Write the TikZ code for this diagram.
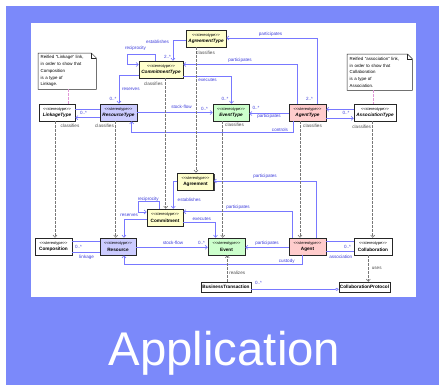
\documentclass[tikz,border=0pt]{standalone}
\usepackage{fontspec}
\setmainfont{Liberation Sans}[Ligatures=TeXOff]
\usetikzlibrary{arrows.meta,shadows,backgrounds}

\definecolor{bgblue}{RGB}{123,137,250}
\definecolor{lnblue}{RGB}{120,120,255}
\definecolor{lblblue}{RGB}{60,60,220}
\definecolor{clsgray}{RGB}{120,120,120}
\definecolor{notepink}{RGB}{225,150,215}
\definecolor{yel}{RGB}{255,255,204}
\definecolor{grn}{RGB}{204,255,204}
\definecolor{pnk}{RGB}{255,204,204}
\definecolor{lav}{RGB}{204,204,255}

\newcommand{\stype}{{\fontsize{4}{4}\selectfont <<stereotype>>}}
\newcommand{\tname}[1]{\textbf{\textit{#1}}}

\tikzset{
  box/.style={draw=black!85, line width=0.5bp, inner sep=0pt, minimum height=17bp,
    align=center, font=\fontsize{4.7}{6.5}\selectfont,
    drop shadow={shadow xshift=1bp, shadow yshift=-1bp, fill=black!75, opacity=1}},
  plainbox/.style={draw=black!85, fill=white, line width=0.5bp, inner sep=0pt, minimum height=10bp,
    font=\fontsize{4.7}{5}\selectfont\bfseries,
    drop shadow={shadow xshift=1bp, shadow yshift=-1bp, fill=blue!40!black, opacity=1}},
  notebox/.style={inner xsep=2.5bp, inner ysep=1.5bp, align=left, minimum height=36bp,
    font=\fontsize{4.4}{6.7}\selectfont},
  notebd/.style={draw=black!85, line width=0.5bp, fill=white},
  lbl/.style={inner sep=0pt, text=lblblue, font=\fontsize{4.6}{5}\selectfont},
  glbl/.style={lbl, text=black!70},
  assoc/.style={draw=lnblue, line width=0.6bp, -{Straight Barb[length=2.2bp,width=4bp]}},
  plain/.style={draw=lnblue, line width=0.6bp},
  aggr/.style={draw=lnblue, line width=0.6bp, -{Diamond[open,length=4bp,width=3bp]}},
  clsf/.style={draw=clsgray, line width=0.6bp, dash pattern=on 2.5bp off 1.5bp,
    -{Straight Barb[length=2.2bp,width=4bp]}},
  dep/.style={clsf},
  notelink/.style={draw=notepink, line width=0.6bp, dash pattern=on 2.5bp off 1.5bp},
}

\begin{document}
\begin{tikzpicture}[x=1bp,y=-1bp]
\useasboundingbox (0,0) rectangle (439,385);

% notes
\node[notebox, text width=53bp, anchor=north west] (n1) at (38,53) {Reified "Linkage" link,\\in order to show that\\Composition\\is a type of\\Linkage.};
\node[notebox, text width=60bp, anchor=north west] (n2) at (347,54) {Reified "association" link,\\in order to show that\\Collaboration\\is a type of\\Association.};

\begin{scope}[on background layer]
\fill[white] (0,0) rectangle (439,385);
\fill[bgblue] (6,6) rectangle (439,385);
\fill[white] (31,23) rectangle (416,297);
\draw[notebd] (n1.south west) -- (n1.south east) -- ([yshift=-5bp]n1.north east)
  -- ([xshift=-5bp]n1.north east) -- (n1.north west) -- cycle;
\draw[notebd] (n2.south west) -- (n2.south east) -- ([yshift=-5bp]n2.north east)
  -- ([xshift=-5bp]n2.north east) -- (n2.north west) -- cycle;
\draw[draw=black!85, line width=0.5bp] ([xshift=-5bp]n1.north east) |- ([yshift=-5bp]n1.north east);
\draw[draw=black!85, line width=0.5bp] ([xshift=-5bp]n2.north east) |- ([yshift=-5bp]n2.north east);
\end{scope}

% type level
\node[box, fill=yel, minimum width=40bp] (agT) at (206,38.5) {\stype\\\tname{AgreementType}};
\node[box, fill=yel, minimum width=44bp] (coT) at (161,69.5) {\stype\\\tname{CommitmentType}};
\node[box, fill=white, minimum width=36bp] (liT) at (57,112.5) {\stype\\\tname{LinkageType}};
\node[box, fill=lav, minimum width=37bp] (reT) at (118.5,112.5) {\stype\\\tname{ResourceType}};
\node[box, fill=grn, minimum width=36bp] (evT) at (231,112.5) {\stype\\\tname{EventType}};
\node[box, fill=pnk, minimum width=37bp] (acT) at (307.5,112.5) {\stype\\\tname{AgentType}};
\node[box, fill=white, minimum width=42bp] (asT) at (375,112.5) {\stype\\\tname{AssociationType}};

% instance level
\node[box, fill=yel, minimum width=36bp] (agr) at (195.5,181.5) {\stype\\\textbf{Agreement}};
\node[box, fill=yel, minimum width=36bp] (com) at (165,217.5) {\stype\\\textbf{Commitment}};
\node[box, fill=white, minimum width=37bp] (cmp) at (53.5,246.5) {\stype\\\textbf{Composition}};
\node[box, fill=lav, minimum width=36bp] (res) at (118,246.5) {\stype\\\textbf{Resource}};
\node[box, fill=grn, minimum width=37bp] (evt) at (226.5,246.5) {\stype\\\textbf{Event}};
\node[box, fill=pnk, minimum width=37bp] (agn) at (307.5,246.5) {\stype\\\textbf{Agent}};
\node[box, fill=white, minimum width=38bp] (col) at (373,246.5) {\stype\\\textbf{Collaboration}};
\node[plainbox, minimum width=50bp] (bt) at (226,287) {BusinessTransaction};
\node[plainbox, minimum width=51bp] (cp) at (364.5,287) {CollaborationProtocol};

\draw[notelink] (n1.south -| 68.3,0) -- (liT.north -| 68.3,0);
\draw[notelink] (n2.south -| 373,0) -- (asT.north -| 373,0);

% type level links
\draw[assoc] (acT.north -| 317,0) |- (agT.east |- 0,38);
\draw[assoc] (acT.north -| 297,0) |- (coT.east |- 0,64.5);
\draw[assoc] (agT.west |- 0,40) -| (coT.north -| 173,0);
\draw[assoc] (coT.north -| 155,0) |- (127,54) |- (coT.west |- 0,64.5);
\draw[assoc] (coT.west |- 0,75.5) -| (reT.north -| 119,0);
\draw[assoc] (coT.east |- 0,76.5) -| (evT.north -| 231.5,0);
\draw[assoc] (reT.east |- 0,112.5) -- (evT.west |- 0,112.5);
\draw[assoc] (acT.west |- 0,113.5) -- (evT.east |- 0,113.5);
\draw[assoc] (acT.south -| 293.3,0) |- (131.7,132) -- (reT.south -| 131.7,0);
\draw[plain] (liT.east |- 0,109.3) -- (reT.west |- 0,109.3);
\draw[assoc] (reT.west |- 0,117.7) -- (liT.east |- 0,117.7);
\draw[assoc] (asT.west |- 0,109.3) -- (acT.east |- 0,109.3);
\draw[assoc] (acT.east |- 0,118.3) -- (asT.west |- 0,118.3);

% instance level links
\draw[assoc] (agn.north -| 316.7,0) |- (agr.east |- 0,181);
\draw[assoc] (agn.north -| 292.7,0) |- (com.east |- 0,211.7);
\draw[assoc] (agr.west |- 0,181.7) -| (com.north -| 173.3,0);
\draw[assoc] (com.north -| 159.3,0) |- (138.3,201.7) |- (com.west |- 0,212);
\draw[assoc] (com.west |- 0,219.5) -| (res.north -| 124,0);
\draw[assoc] (com.east |- 0,222.7) -| (evt.north -| 215.5,0);
\draw[assoc] (res.east |- 0,247.3) -- (evt.west |- 0,247.3);
\draw[assoc] (agn.west |- 0,247.3) -- (evt.east |- 0,247.3);
\draw[assoc] (agn.south -| 302.7,0) |- (124,264.5) -- (res.south -| 124,0);
\draw[plain] (cmp.east |- 0,241.7) -- (res.west |- 0,241.7);
\draw[plain] (cmp.east |- 0,252.3) -- (res.west |- 0,252.3);
\draw[plain] (agn.east |- 0,241.7) -- (col.west |- 0,241.7);
\draw[plain] (agn.east |- 0,251.7) -- (col.west |- 0,251.7);
\draw[aggr] (bt.east |- 0,289.3) -- (cp.west |- 0,289.3);
\draw[dep] (col.south -| 368.3,0) -- (cp.north -| 368.3,0);
\draw[dep] (bt.north -| 227.3,0) -- (evt.south -| 227.3,0);

% classifies
\foreach \t/\i/\x in {liT/cmp/55, reT/res/115.7, coT/com/165.7, agT/agr/196,
  evT/evt/222.7, acT/agn/300, asT/col/372.7}
  \draw[clsf] (\t.south -| \x,0) -- (\i.north -| \x,0);

% labels, type level
\node[lbl] (l1) at (270.5,34) {participates};
\node[lbl] (l2) at (240,60.5) {participates};
\node[lbl] (m1) at (309.5,99) {2..*};
\node[lbl] (l3) at (157.5,41.5) {establishes};
\node[lbl] (m2) at (167.5,57) {2..*};
\node[lbl] (l4) at (135.5,48.3) {reciprocity};
\node[lbl] (l5) at (130.8,89.3) {reserves};
\node[lbl] (m3) at (113,98.5) {0..*};
\node[lbl] (l6) at (207.5,80) {executes};
\node[lbl] (m4) at (225,98.5) {0..*};
\node[lbl] (l7) at (181.5,106.7) {stock-flow};
\node[lbl] (m5) at (204.5,108.5) {0..*};
\node[lbl] (l8) at (269,116) {participates};
\node[lbl] (m6) at (256,107.7) {0..*};
\node[lbl] (m7) at (83.5,113.3) {0..*};
\node[lbl] (m8) at (346,112.7) {0..*};
\node[lbl] (l9) at (280,129.7) {controls};
\node[glbl] (c1) at (70,126) {classifies};
\node[glbl] (c2) at (104.5,126) {classifies};
\node[glbl] (c3) at (153.3,84) {classifies};
\node[glbl] (c4) at (205.5,53) {classifies};
\node[glbl] (c5) at (234.5,124.5) {classifies};
\node[glbl] (c6) at (312.5,125.5) {classifies};
\node[glbl] (c7) at (361.7,126.7) {classifies};

% labels, instance level
\node[lbl] (k1) at (265,176.3) {participates};
\node[lbl] (k2) at (238,207.3) {participates};
\node[lbl] (k3) at (189.2,200) {establishes};
\node[lbl] (k4) at (148.3,199) {reciprocity};
\node[lbl] (k5) at (129.2,215) {reserves};
\node[lbl] (k6) at (201.7,219.3) {executes};
\node[lbl] (k7) at (173,243.3) {stock-flow};
\node[lbl] (n3) at (201.5,243.3) {0..*};
\node[lbl] (k8) at (267,243.3) {participates};
\node[lbl] (k9) at (286.7,261.7) {custody};
\node[lbl] (n4) at (78.5,247.3) {0..*};
\node[lbl] (k10) at (86.7,257.3) {linkage};
\node[lbl] (n5) at (347.5,246.7) {0..*};
\node[lbl] (k11) at (340.8,257.3) {association};
\node[glbl] (k12) at (237.2,272.7) {realizes};
\node[glbl] (k13) at (376.7,268.3) {uses};
\node[lbl] (n6) at (258.5,283.3) {0..*};

% title
\node[anchor=base, inner sep=0pt, text=white, font=\fontsize{47.5}{50}\selectfont] (app) at (224.5,365) {Application};
\end{tikzpicture}
\end{document}
